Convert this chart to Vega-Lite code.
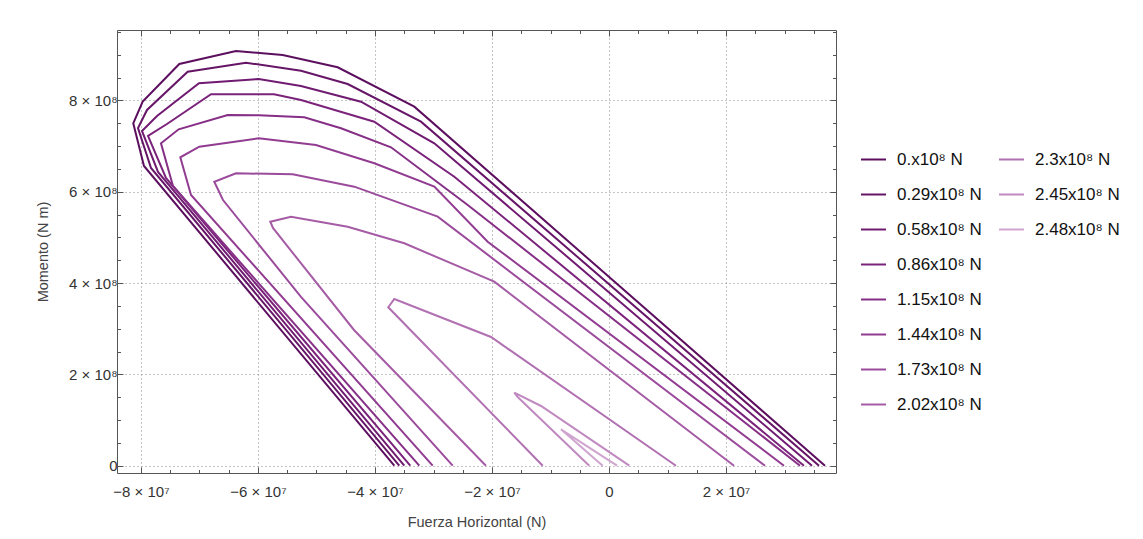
{
  "$schema": "https://vega.github.io/schema/vega-lite/v6.json",
  "width": 719,
  "height": 443,
  "autosize": {"type": "none"},
  "padding": {"left": 117, "top": 30, "right": 307, "bottom": 66},
  "background": "white",
  "config": {"view": {"stroke": null}, "font": "Liberation Sans"},
  "datasets": {
    "curves": [
      {"g":0,"s":"0.x10⁸ N","i":0,"x":-3.670e7,"y":0},
      {"g":0,"s":"0.x10⁸ N","i":1,"x":-7.949e7,"y":6.565e8},
      {"g":0,"s":"0.x10⁸ N","i":2,"x":-8.132e7,"y":7.501e8},
      {"g":0,"s":"0.x10⁸ N","i":3,"x":-7.971e7,"y":7.974e8},
      {"g":0,"s":"0.x10⁸ N","i":4,"x":-7.345e7,"y":8.800e8},
      {"g":0,"s":"0.x10⁸ N","i":5,"x":-6.376e7,"y":9.084e8},
      {"g":0,"s":"0.x10⁸ N","i":6,"x":-5.578e7,"y":8.997e8},
      {"g":0,"s":"0.x10⁸ N","i":7,"x":-4.638e7,"y":8.727e8},
      {"g":0,"s":"0.x10⁸ N","i":8,"x":-3.328e7,"y":7.864e8},
      {"g":0,"s":"0.x10⁸ N","i":9,"x":3.692e7,"y":0},

      {"g":1,"s":"0.29x10⁸ N","i":0,"x":-3.585e7,"y":0},
      {"g":1,"s":"0.29x10⁸ N","i":1,"x":-7.829e7,"y":6.521e8},
      {"g":1,"s":"0.29x10⁸ N","i":2,"x":-8.051e7,"y":7.398e8},
      {"g":1,"s":"0.29x10⁸ N","i":3,"x":-7.897e7,"y":7.792e8},
      {"g":1,"s":"0.29x10⁸ N","i":4,"x":-7.202e7,"y":8.631e8},
      {"g":1,"s":"0.29x10⁸ N","i":5,"x":-6.205e7,"y":8.828e8},
      {"g":1,"s":"0.29x10⁸ N","i":6,"x":-5.265e7,"y":8.653e8},
      {"g":1,"s":"0.29x10⁸ N","i":7,"x":-4.467e7,"y":8.361e8},
      {"g":1,"s":"0.29x10⁸ N","i":8,"x":-3.214e7,"y":7.536e8},
      {"g":1,"s":"0.29x10⁸ N","i":9,"x":3.590e7,"y":0},

      {"g":2,"s":"0.58x10⁸ N","i":0,"x":-3.499e7,"y":0},
      {"g":2,"s":"0.58x10⁸ N","i":1,"x":-7.709e7,"y":6.434e8},
      {"g":2,"s":"0.58x10⁸ N","i":2,"x":-7.983e7,"y":7.332e8},
      {"g":2,"s":"0.58x10⁸ N","i":3,"x":-7.726e7,"y":7.661e8},
      {"g":2,"s":"0.58x10⁸ N","i":4,"x":-7.009e7,"y":8.377e8},
      {"g":2,"s":"0.58x10⁸ N","i":5,"x":-5.988e7,"y":8.471e8},
      {"g":2,"s":"0.58x10⁸ N","i":6,"x":-5.265e7,"y":8.318e8},
      {"g":2,"s":"0.58x10⁸ N","i":7,"x":-4.239e7,"y":7.974e8},
      {"g":2,"s":"0.58x10⁸ N","i":8,"x":-2.986e7,"y":7.062e8},
      {"g":2,"s":"0.58x10⁸ N","i":9,"x":3.470e7,"y":0},

      {"g":3,"s":"0.86x10⁸ N","i":0,"x":-3.397e7,"y":0},
      {"g":3,"s":"0.86x10⁸ N","i":1,"x":-7.573e7,"y":6.302e8},
      {"g":3,"s":"0.86x10⁸ N","i":2,"x":-7.880e7,"y":7.222e8},
      {"g":3,"s":"0.86x10⁸ N","i":3,"x":-7.556e7,"y":7.485e8},
      {"g":3,"s":"0.86x10⁸ N","i":4,"x":-6.803e7,"y":8.136e8},
      {"g":3,"s":"0.86x10⁸ N","i":5,"x":-5.726e7,"y":8.136e8},
      {"g":3,"s":"0.86x10⁸ N","i":6,"x":-5.265e7,"y":8.011e8},
      {"g":3,"s":"0.86x10⁸ N","i":7,"x":-4.012e7,"y":7.536e8},
      {"g":3,"s":"0.86x10⁸ N","i":8,"x":-2.644e7,"y":6.331e8},
      {"g":3,"s":"0.86x10⁸ N","i":9,"x":3.333e7,"y":0},

      {"g":4,"s":"1.15x10⁸ N","i":0,"x":-3.243e7,"y":0},
      {"g":4,"s":"1.15x10⁸ N","i":1,"x":-7.453e7,"y":6.127e8},
      {"g":4,"s":"1.15x10⁸ N","i":2,"x":-7.658e7,"y":7.062e8},
      {"g":4,"s":"1.15x10⁸ N","i":3,"x":-7.356e7,"y":7.369e8},
      {"g":4,"s":"1.15x10⁸ N","i":4,"x":-6.518e7,"y":7.682e8},
      {"g":4,"s":"1.15x10⁸ N","i":5,"x":-5.988e7,"y":7.676e8},
      {"g":4,"s":"1.15x10⁸ N","i":6,"x":-5.209e7,"y":7.632e8},
      {"g":4,"s":"1.15x10⁸ N","i":7,"x":-4.581e7,"y":7.391e8},
      {"g":4,"s":"1.15x10⁸ N","i":8,"x":-3.726e7,"y":6.975e8},
      {"g":4,"s":"1.15x10⁸ N","i":9,"x":-2.415e7,"y":5.711e8},
      {"g":4,"s":"1.15x10⁸ N","i":10,"x":3.265e7,"y":0},

      {"g":5,"s":"1.44x10⁸ N","i":0,"x":-3.014e7,"y":0},
      {"g":5,"s":"1.44x10⁸ N","i":1,"x":-7.145e7,"y":5.930e8},
      {"g":5,"s":"1.44x10⁸ N","i":2,"x":-7.328e7,"y":6.756e8},
      {"g":5,"s":"1.44x10⁸ N","i":3,"x":-7.003e7,"y":6.988e8},
      {"g":5,"s":"1.44x10⁸ N","i":4,"x":-5.988e7,"y":7.172e8},
      {"g":5,"s":"1.44x10⁸ N","i":5,"x":-5.009e7,"y":7.025e8},
      {"g":5,"s":"1.44x10⁸ N","i":6,"x":-4.012e7,"y":6.624e8},
      {"g":5,"s":"1.44x10⁸ N","i":7,"x":-2.986e7,"y":6.112e8},
      {"g":5,"s":"1.44x10⁸ N","i":8,"x":-2.074e7,"y":4.907e8},
      {"g":5,"s":"1.44x10⁸ N","i":9,"x":2.991e7,"y":0},

      {"g":6,"s":"1.73x10⁸ N","i":0,"x":-2.672e7,"y":0},
      {"g":6,"s":"1.73x10⁸ N","i":1,"x":-5.265e7,"y":3.696e8},
      {"g":6,"s":"1.73x10⁸ N","i":2,"x":-6.598e7,"y":5.820e8},
      {"g":6,"s":"1.73x10⁸ N","i":3,"x":-6.747e7,"y":6.221e8},
      {"g":6,"s":"1.73x10⁸ N","i":4,"x":-6.376e7,"y":6.405e8},
      {"g":6,"s":"1.73x10⁸ N","i":5,"x":-5.407e7,"y":6.383e8},
      {"g":6,"s":"1.73x10⁸ N","i":6,"x":-4.354e7,"y":6.112e8},
      {"g":6,"s":"1.73x10⁸ N","i":7,"x":-2.928e7,"y":5.455e8},
      {"g":6,"s":"1.73x10⁸ N","i":8,"x":2.667e7,"y":0},

      {"g":7,"s":"2.02x10⁸ N","i":0,"x":-2.103e7,"y":0},
      {"g":7,"s":"2.02x10⁸ N","i":1,"x":-4.359e7,"y":2.973e8},
      {"g":7,"s":"2.02x10⁸ N","i":2,"x":-5.744e7,"y":5.207e8},
      {"g":7,"s":"2.02x10⁸ N","i":3,"x":-5.790e7,"y":5.345e8},
      {"g":7,"s":"2.02x10⁸ N","i":4,"x":-5.436e7,"y":5.455e8},
      {"g":7,"s":"2.02x10⁸ N","i":5,"x":-4.467e7,"y":5.235e8},
      {"g":7,"s":"2.02x10⁸ N","i":6,"x":-3.499e7,"y":4.872e8},
      {"g":7,"s":"2.02x10⁸ N","i":7,"x":-1.961e7,"y":4.031e8},
      {"g":7,"s":"2.02x10⁸ N","i":8,"x":2.137e7,"y":0},

      {"g":8,"s":"2.3x10⁸ N","i":0,"x":-1.133e7,"y":0},
      {"g":8,"s":"2.3x10⁸ N","i":1,"x":-3.773e7,"y":3.470e8},
      {"g":8,"s":"2.3x10⁸ N","i":2,"x":-3.670e7,"y":3.652e8},
      {"g":8,"s":"2.3x10⁸ N","i":3,"x":-2.017e7,"y":2.819e8},
      {"g":8,"s":"2.3x10⁸ N","i":4,"x":1.145e7,"y":0},

      {"g":9,"s":"2.45x10⁸ N","i":0,"x":-0.337e7,"y":0},
      {"g":9,"s":"2.45x10⁸ N","i":1,"x":-1.561e7,"y":1.505e8},
      {"g":9,"s":"2.45x10⁸ N","i":2,"x":-1.619e7,"y":1.599e8},
      {"g":9,"s":"2.45x10⁸ N","i":3,"x":-1.162e7,"y":1.308e8},
      {"g":9,"s":"2.45x10⁸ N","i":4,"x":0.347e7,"y":0},

      {"g":10,"s":"2.48x10⁸ N","i":0,"x":-0.108e7,"y":0},
      {"g":10,"s":"2.48x10⁸ N","i":1,"x":-0.821e7,"y":0.797e8},
      {"g":10,"s":"2.48x10⁸ N","i":2,"x":0.137e7,"y":0}
    ]
  },
  "layer": [
    {
      "data": {"name": "curves"},
      "transform": [{"filter": "datum.g <= 7"}],
      "mark": {"type": "line", "strokeWidth": 2},
      "encoding": {
        "x": {
          "field": "x", "type": "quantitative",
          "scale": {"domain": [-8.41e7, 3.88e7], "nice": false, "zero": false},
          "axis": {
            "orient": "bottom",
            "values": [-8e7,-7.5e7,-7e7,-6.5e7,-6e7,-5.5e7,-5e7,-4.5e7,-4e7,-3.5e7,-3e7,-2.5e7,-2e7,-1.5e7,-1e7,-5e6,0,5e6,1e7,1.5e7,2e7,2.5e7,3e7,3.5e7],
            "labelExpr": "abs(datum.value) % 2e7 < 1 ? (datum.value == 0 ? '0' : format(datum.value/1e7,'d') + ' × 10⁷') : ''",
            "tickSize": {"condition": {"test": "abs(datum.value) % 2e7 < 1", "value": -6}, "value": -3.5},
            "gridOpacity": {"condition": {"test": "abs(datum.value) % 2e7 < 1", "value": 1}, "value": 0},
            "grid": true, "gridDash": [1, 3], "gridColor": "#8a8a8a", "gridWidth": 1,
            "domainColor": "#555555", "tickColor": "#555555",
            "labelFont": "Liberation Sans", "labelFontSize": 15, "labelColor": "#333333",
            "labelPadding": 17, "labelFlush": false, "labelOverlap": false,
            "title": "Fuerza Horizontal (N)", "titleFont": "Liberation Sans", "titleFontSize": 14.5,
            "titleFontWeight": "normal", "titleColor": "#444444", "titlePadding": 14
          }
        },
        "y": {
          "field": "y", "type": "quantitative",
          "scale": {"domain": [-0.16e8, 9.544e8], "nice": false, "zero": false},
          "axis": {
            "orient": "left",
            "values": [0,5e7,1e8,1.5e8,2e8,2.5e8,3e8,3.5e8,4e8,4.5e8,5e8,5.5e8,6e8,6.5e8,7e8,7.5e8,8e8,8.5e8,9e8,9.5e8],
            "labelExpr": "abs(datum.value) % 2e8 < 1 ? (datum.value == 0 ? '0' : format(datum.value/1e8,'d') + ' × 10⁸') : ''",
            "tickSize": {"condition": {"test": "abs(datum.value) % 2e8 < 1", "value": -6}, "value": -3.5},
            "gridOpacity": {"condition": {"test": "abs(datum.value) % 2e8 < 1", "value": 1}, "value": 0},
            "grid": true, "gridDash": [1, 3], "gridColor": "#8a8a8a", "gridWidth": 1,
            "domainColor": "#555555", "tickColor": "#555555",
            "labelFont": "Liberation Sans", "labelFontSize": 15, "labelColor": "#333333",
            "labelPadding": 6, "labelFlush": false, "labelOverlap": false,
            "title": "Momento (N m)", "titleFont": "Liberation Sans", "titleFontSize": 14.5,
            "titleFontWeight": "normal", "titleColor": "#444444", "titlePadding": 18
          }
        },
        "color": {
          "field": "s", "type": "nominal",
          "scale": {
            "domain": ["0.x10⁸ N","0.29x10⁸ N","0.58x10⁸ N","0.86x10⁸ N","1.15x10⁸ N","1.44x10⁸ N","1.73x10⁸ N","2.02x10⁸ N"],
            "range": ["#5c0f5e","#661567","#701b71","#7b237b","#862f86","#913c91","#9b4b9b","#a55ca5"]
          },
          "legend": {
            "orient": "none", "legendX": 743, "legendY": 116, "title": null, "padding": 0,
            "symbolType": "stroke", "symbolSize": 625, "symbolStrokeWidth": 2,
            "labelFont": "Liberation Sans", "labelFontSize": 17, "labelColor": "#111111",
            "labelOffset": 10, "rowPadding": 13, "direction": "vertical"
          }
        },
        "order": {"field": "i", "type": "quantitative"}
      }
    },
    {
      "data": {"name": "curves"},
      "transform": [{"filter": "datum.g >= 8"}],
      "mark": {"type": "line", "strokeWidth": 2},
      "encoding": {
        "x": {
          "field": "x", "type": "quantitative",
          "scale": {"domain": [-8.41e7, 3.88e7], "nice": false, "zero": false},
          "axis": {
            "orient": "top",
            "values": [-8e7,-7.5e7,-7e7,-6.5e7,-6e7,-5.5e7,-5e7,-4.5e7,-4e7,-3.5e7,-3e7,-2.5e7,-2e7,-1.5e7,-1e7,-5e6,0,5e6,1e7,1.5e7,2e7,2.5e7,3e7,3.5e7],
            "labels": false, "grid": false, "title": null,
            "tickSize": {"condition": {"test": "abs(datum.value) % 2e7 < 1", "value": -6}, "value": -3.5},
            "domainColor": "#555555", "tickColor": "#555555"
          }
        },
        "y": {
          "field": "y", "type": "quantitative",
          "scale": {"domain": [-0.16e8, 9.544e8], "nice": false, "zero": false},
          "axis": {
            "orient": "right",
            "values": [0,5e7,1e8,1.5e8,2e8,2.5e8,3e8,3.5e8,4e8,4.5e8,5e8,5.5e8,6e8,6.5e8,7e8,7.5e8,8e8,8.5e8,9e8,9.5e8],
            "labels": false, "grid": false, "title": null,
            "tickSize": {"condition": {"test": "abs(datum.value) % 2e8 < 1", "value": -6}, "value": -3.5},
            "domainColor": "#555555", "tickColor": "#555555"
          }
        },
        "color": {
          "field": "s", "type": "nominal",
          "scale": {
            "domain": ["2.3x10⁸ N","2.45x10⁸ N","2.48x10⁸ N"],
            "range": ["#b170b1","#c08ac0","#cfa5cf"]
          },
          "legend": {
            "orient": "none", "legendX": 881, "legendY": 116, "title": null, "padding": 0,
            "symbolType": "stroke", "symbolSize": 625, "symbolStrokeWidth": 2,
            "labelFont": "Liberation Sans", "labelFontSize": 17, "labelColor": "#111111",
            "labelOffset": 10, "rowPadding": 13, "direction": "vertical"
          }
        },
        "order": {"field": "i", "type": "quantitative"}
      }
    }
  ],
  "resolve": {
    "scale": {"color": "independent"},
    "axis": {"x": "independent", "y": "independent"}
  }
}
